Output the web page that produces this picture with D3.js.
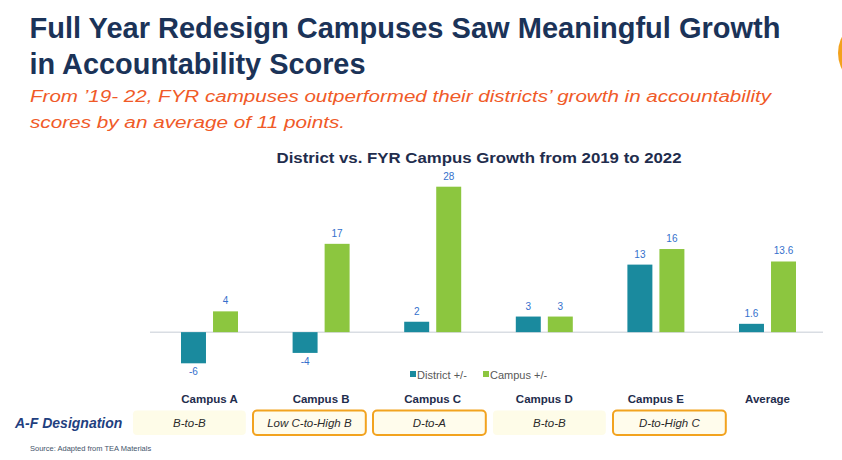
<!DOCTYPE html>
<html>
<head>
<meta charset="utf-8">
<script src="https://cdn.jsdelivr.net/npm/d3@7"></script>
<style>
  body { margin: 0; background: #ffffff; }
  svg { display: block; font-family: "Liberation Sans", Arial, sans-serif; }
</style>
</head>
<body>
<div id="chart"></div>
<script>
// chart values
var categories = ["Campus A", "Campus B", "Campus C", "Campus D", "Campus E", "Average"];
var districtValues = [-6, -4, 2, 3, 13, 1.6];
var campusValues = [4, 17, 28, 3, 16, 13.6];
var seriesNames = ["District +/-", "Campus +/-"];
var designations = ["B-to-B", "Low C-to-High B", "D-to-A", "B-to-B", "D-to-High C"];
var improved = [false, true, true, false, true];

var width = 842, height = 460;
var navy = "#1b3358";
var districtColor = "#1a8a9e";
var campusColor = "#8cc63f";
var labelColor = "#3470cc";

var svg = d3.select("#chart").append("svg")
    .attr("width", width)
    .attr("height", height);

// orange bit of a logo peeking in at the right edge
svg.append("circle")
    .attr("cx", 873).attr("cy", 53).attr("r", 35)
    .attr("fill", "#f3a21c");

// headline
svg.append("text")
    .attr("x", 29.5).attr("y", 37.5)
    .attr("font-size", 29.5).attr("font-weight", "bold")
    .attr("fill", navy)
    .attr("textLength", 751).attr("lengthAdjust", "spacingAndGlyphs")
    .text("Full Year Redesign Campuses Saw Meaningful Growth");
svg.append("text")
    .attr("x", 29.5).attr("y", 74)
    .attr("font-size", 29.5).attr("font-weight", "bold")
    .attr("fill", navy)
    .attr("textLength", 336).attr("lengthAdjust", "spacingAndGlyphs")
    .text("in Accountability Scores");

svg.append("text")
    .attr("x", 30).attr("y", 101.5)
    .attr("font-size", 16).attr("font-style", "italic")
    .attr("fill", "#f05a28")
    .attr("textLength", 741).attr("lengthAdjust", "spacingAndGlyphs")
    .text("From \u201919- 22, FYR campuses outperformed their districts\u2019 growth in accountability");
svg.append("text")
    .attr("x", 30).attr("y", 128)
    .attr("font-size", 16).attr("font-style", "italic")
    .attr("fill", "#f05a28")
    .attr("textLength", 315).attr("lengthAdjust", "spacingAndGlyphs")
    .text("scores by an average of 11 points.");

// chart title
svg.append("text")
    .attr("x", 479).attr("y", 163)
    .attr("text-anchor", "middle")
    .attr("font-size", 14).attr("font-weight", "bold")
    .attr("fill", "#1f2d4d")
    .attr("textLength", 405).attr("lengthAdjust", "spacingAndGlyphs")
    .text("District vs. FYR Campus Growth from 2019 to 2022");

// scales
var x = d3.scaleBand()
    .domain(categories)
    .range([153.7, 823.3])
    .padding(0);

var x1 = d3.scaleBand()
    .domain(seriesNames)
    .range([27.3, 84.3])
    .paddingInner(0.22);

var y = d3.scaleLinear()
    .domain([-6, 28])
    .range([363.3, 186.7]);

var color = d3.scaleOrdinal()
    .domain(seriesNames)
    .range([districtColor, campusColor]);

// zero line
svg.append("line")
    .attr("x1", 150).attr("x2", 823)
    .attr("y1", y(0)).attr("y2", y(0))
    .attr("stroke", "#d9dde3").attr("stroke-width", 1.5);

var rows = categories.map(function (c, i) {
    return { category: c, values: [
        { series: seriesNames[0], value: districtValues[i] },
        { series: seriesNames[1], value: campusValues[i] }
    ] };
});

var group = svg.selectAll(".group")
    .data(rows)
    .enter().append("g")
    .attr("class", "group")
    .attr("transform", function (d) { return "translate(" + x(d.category) + ",0)"; });

group.selectAll("rect")
    .data(function (d) { return d.values; })
    .enter().append("rect")
    .attr("x", function (d) { return x1(d.series); })
    .attr("width", x1.bandwidth())
    .attr("y", function (d) { return y(Math.max(0, d.value)); })
    .attr("height", function (d) { return Math.abs(y(d.value) - y(0)); })
    .attr("fill", function (d) { return color(d.series); });

group.selectAll(".val")
    .data(function (d) { return d.values; })
    .enter().append("text")
    .attr("class", "val")
    .attr("x", function (d) { return x1(d.series) + x1.bandwidth() / 2; })
    .attr("y", function (d) { return d.value >= 0 ? y(d.value) - 7 : y(d.value) + 12; })
    .attr("text-anchor", "middle")
    .attr("font-size", 10)
    .attr("fill", labelColor)
    .text(function (d) { return d.value; });

// legend
var legend = svg.append("g").attr("transform", "translate(410,375)");
var legendX = [0, 73];
seriesNames.forEach(function (s, i) {
    legend.append("rect")
        .attr("x", legendX[i]).attr("y", -4)
        .attr("width", 6).attr("height", 6)
        .attr("fill", color(s));
    legend.append("text")
        .attr("x", legendX[i] + 7).attr("y", 3.5)
        .attr("font-size", 11)
        .attr("fill", "#595959")
        .text(s);
});

// category labels under the chart
svg.selectAll(".cat")
    .data(categories)
    .enter().append("text")
    .attr("class", "cat")
    .attr("x", function (d) { return x(d) + x.bandwidth() / 2; })
    .attr("y", 403)
    .attr("text-anchor", "middle")
    .attr("font-size", 11.5).attr("font-weight", "bold")
    .attr("fill", "#1f2d4d")
    .text(function (d) { return d; });

// A-F designation row
svg.append("text")
    .attr("x", 15).attr("y", 428)
    .attr("font-size", 14).attr("font-weight", "bold").attr("font-style", "italic")
    .attr("fill", "#1f3f7f")
    .text("A-F Designation");

var xd = d3.scaleBand()
    .domain(categories.slice(0, 5))
    .range([129.4, 729.4])
    .paddingInner(0.06)
    .paddingOuter(0.03);

var cell = svg.selectAll(".cell")
    .data(designations)
    .enter().append("g")
    .attr("class", "cell")
    .attr("transform", function (d, i) { return "translate(" + xd(categories[i]) + ",410.5)"; });

cell.append("rect")
    .attr("width", xd.bandwidth())
    .attr("height", 24.5)
    .attr("rx", 4)
    .attr("fill", function (d, i) { return improved[i] ? "#fffcec" : "#fefce8"; })
    .attr("stroke", function (d, i) { return improved[i] ? "#f2a31f" : "none"; })
    .attr("stroke-width", 2);

cell.append("text")
    .attr("x", xd.bandwidth() / 2)
    .attr("y", 16.5)
    .attr("text-anchor", "middle")
    .attr("font-size", 11.5).attr("font-style", "italic")
    .attr("fill", "#2b2b2b")
    .text(function (d) { return d; });

// source note
svg.append("text")
    .attr("x", 30).attr("y", 451)
    .attr("font-size", 7.5)
    .attr("fill", "#44546a")
    .text("Source: Adapted from TEA Materials");
</script>
</body>
</html>
